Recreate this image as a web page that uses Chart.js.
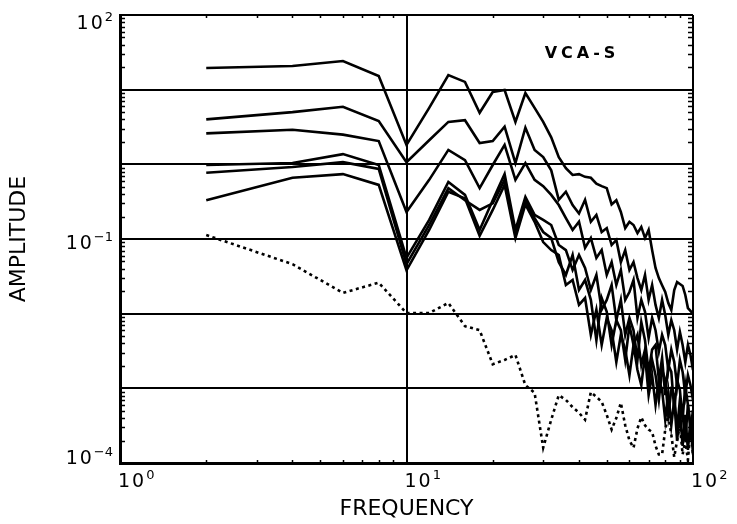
<!DOCTYPE html>
<html>
<head>
<meta charset="utf-8">
<script src="https://cdn.jsdelivr.net/npm/chart.js@4.4.0/dist/chart.umd.min.js"></script>
<style>
  body { margin: 0; background: #fff; }
  canvas { display: block; }
</style>
</head>
<body>
<canvas id="chart" width="737" height="524"></canvas>
<script>
// frequency samples (Hz)
const freq = [2, 4, 6, 8, 10, 12, 14, 16, 18, 20, 22, 24, 26, 28, 30, 32, 34, 36, 38, 40,
  42, 44, 46, 48, 50, 52, 54, 56, 58, 60, 62, 64, 66, 68, 70, 72, 74, 76, 78, 80,
  82, 84, 86, 88, 90, 92, 94, 96, 98, 100];

// spectra, top to bottom
const ampA = [19.5, 20.7, 24.2, 15.2, 1.82, 5.7, 15.7, 12.7, 4.9, 9.3,
  9.9, 3.7, 9.0, 5.7, 3.7, 2.3, 1.25, 0.89, 0.72, 0.74,
  0.68, 0.66, 0.55, 0.51, 0.48, 0.29, 0.33, 0.23, 0.14, 0.17,
  0.154, 0.12, 0.145, 0.103, 0.132, 0.071, 0.041, 0.030, 0.024, 0.0195,
  0.0139, 0.0112, 0.0207, 0.0265, 0.025, 0.0235, 0.0178, 0.0119, 0.0109, 0.0099];
const ampB = [4.0, 5.0, 5.9, 3.8, 1.07, 2.1, 3.7, 3.9, 1.93, 2.05,
  3.2, 1.04, 3.1, 1.56, 1.25, 0.83, 0.335, 0.43, 0.285, 0.22,
  0.335, 0.17, 0.21, 0.124, 0.14, 0.083, 0.097, 0.049, 0.071, 0.0385,
  0.049, 0.030, 0.0208, 0.033, 0.0153, 0.0242, 0.0131, 0.00875, 0.0153, 0.0096,
  0.0052, 0.0082, 0.006, 0.0033, 0.0057, 0.0038, 0.00225, 0.0038, 0.0028, 0.00176];
const ampC = [2.6, 2.9, 2.5, 2.05, 0.23, 0.62, 1.56, 1.14, 0.48, 0.98,
  1.82, 0.62, 1.04, 0.62, 0.51, 0.39, 0.285, 0.19, 0.132, 0.17,
  0.076, 0.103, 0.0557, 0.071, 0.033, 0.049, 0.0242, 0.0385, 0.0153, 0.0195,
  0.0282, 0.00875, 0.0153, 0.0106, 0.0047, 0.00875, 0.006, 0.0031, 0.0052, 0.0038,
  0.00176, 0.0033, 0.00225, 0.0011, 0.0024, 0.00166, 0.00081, 0.0015, 0.0011, 0.0007];
const ampD = [0.98, 1.04, 1.37, 0.98, 0.056, 0.18, 0.58, 0.39, 0.132, 0.33,
  0.74, 0.132, 0.365, 0.21, 0.18, 0.154, 0.083, 0.071, 0.0385, 0.061,
  0.041, 0.0208, 0.033, 0.0113, 0.0153, 0.0242, 0.0082, 0.0153, 0.0052, 0.00875,
  0.006, 0.0024, 0.0077, 0.0044, 0.00166, 0.0033, 0.0038, 0.0013, 0.00255, 0.00081,
  0.00205, 0.00166, 0.00051, 0.0013, 0.00095, 0.00038, 0.0011, 0.0006, 0.00028, 0.00051];
const ampE = [0.77, 0.92, 1.07, 0.87, 0.046, 0.154, 0.48, 0.33, 0.245, 0.30,
  0.62, 0.12, 0.33, 0.19, 0.124, 0.103, 0.049, 0.033, 0.061, 0.0208,
  0.0282, 0.0153, 0.0044, 0.0162, 0.0106, 0.0038, 0.0082, 0.006, 0.0024, 0.007,
  0.0038, 0.0052, 0.00205, 0.0033, 0.0011, 0.0024, 0.0015, 0.0007, 0.00176, 0.0013,
  0.00044, 0.00095, 0.00081, 0.00028, 0.0007, 0.00044, 0.0002, 0.0006, 0.00032, 0.00017];
const ampF = [0.33, 0.66, 0.74, 0.53, 0.038, 0.132, 0.43, 0.35, 0.11, 0.245,
  0.53, 0.103, 0.29, 0.17, 0.091, 0.071, 0.061, 0.0242, 0.0282, 0.0131,
  0.0162, 0.0052, 0.0113, 0.0038, 0.00875, 0.006, 0.00225, 0.0052, 0.0033, 0.0015,
  0.0038, 0.00176, 0.0011, 0.0028, 0.00081, 0.0015, 0.0006, 0.0013, 0.00095, 0.00038,
  0.00089, 0.00032, 0.0007, 0.0002, 0.00051, 0.00017, 0.00044, 0.00015, 0.00038, 0.00013];
// noise floor (dotted)
const ampNoise = [0.113, 0.046, 0.019, 0.026, 0.0102, 0.0102, 0.0139, 0.0068, 0.006, 0.0021,
  0.0024, 0.0028, 0.0011, 0.00087, 0.00016, 0.00038, 0.00081, 0.0007, 0.00056, 0.00047,
  0.00038, 0.00089, 0.00077, 0.00066, 0.00044, 0.00028, 0.0004, 0.00064, 0.00032, 0.0002,
  0.00016, 0.00029, 0.00041, 0.00032, 0.00028, 0.00026, 0.00017, 0.00013, 0.00013, 0.00028,
  0.00044, 0.00024, 0.00012, 0.0002, 0.00032, 0.00013, 0.0002, 0.00011, 0.00028, 0.00013];

// decade ticks; labels are [base, exponent], null where the decade is unlabelled
const xTickValues = [1, 10, 100];
const xTickLabels = [['10', '0'], ['10', '1'], ['10', '2']];
const yTickValues = [1e-4, 1e-3, 1e-2, 1e-1, 1, 10, 100];
const yTickLabels = [['10', '−4'], null, null, ['10', '−1'], null, null, ['10', '2']];

const FONT = '"DejaVu Sans", sans-serif';

const toPoints = arr => arr.map((v, i) => ({ x: freq[i], y: v }));

const solid = arr => ({
  data: toPoints(arr),
  borderColor: '#000',
  borderWidth: 2.6,
  pointRadius: 0,
  tension: 0,
  fill: false
});

// "10" with a raised exponent, anchored at (x, yMid)
function drawPower(ctx, lab, x, yMid, align) {
  ctx.letterSpacing = '2px';
  ctx.font = '19px ' + FONT;
  const wb = ctx.measureText(lab[0]).width;
  ctx.letterSpacing = '0px';
  ctx.font = '13px ' + FONT;
  const we = ctx.measureText(lab[1]).width;
  const left = align === 'right' ? x - wb - we : x;
  ctx.textAlign = 'left';
  ctx.textBaseline = 'alphabetic';
  ctx.letterSpacing = '2px';
  ctx.font = '19px ' + FONT;
  ctx.fillText(lab[0], left, yMid + 7);
  ctx.letterSpacing = '0px';
  ctx.font = '13px ' + FONT;
  ctx.fillText(lab[1], left + wb, yMid - 1);
}

// inward minor ticks on all four sides, decade labels and the panel tag
const frameDecor = {
  id: 'frameDecor',
  afterDraw(chart) {
    const { ctx, chartArea: a, scales: { x, y } } = chart;
    ctx.save();
    ctx.strokeStyle = '#000';
    ctx.lineWidth = 1.5;
    ctx.beginPath();
    for (let e = -4; e < 2; e++) {
      for (let m = 2; m < 10; m++) {
        const py = Math.round(y.getPixelForValue(m * Math.pow(10, e))) + 0.5;
        ctx.moveTo(a.left, py); ctx.lineTo(a.left + 5, py);
        ctx.moveTo(a.right, py); ctx.lineTo(a.right - 5, py);
      }
    }
    for (let e = 0; e < 2; e++) {
      for (let m = 2; m < 10; m++) {
        const px = Math.round(x.getPixelForValue(m * Math.pow(10, e))) + 0.5;
        ctx.moveTo(px, a.bottom); ctx.lineTo(px, a.bottom - 3);
        ctx.moveTo(px, a.top); ctx.lineTo(px, a.top + 3);
      }
    }
    ctx.stroke();

    ctx.fillStyle = '#000';
    yTickValues.forEach((v, i) => {
      if (!yTickLabels[i]) return;
      const py = Math.min(Math.max(y.getPixelForValue(v) + 3, a.top + 7), a.bottom - 6);
      drawPower(ctx, yTickLabels[i], a.left - 7, py, 'right');
    });
    xTickValues.forEach((v, i) => {
      drawPower(ctx, xTickLabels[i], x.getPixelForValue(v) - 2, a.bottom + 17, 'left');
    });

    ctx.font = 'bold 16px ' + FONT;
    ctx.letterSpacing = '4px';
    ctx.textAlign = 'center';
    ctx.textBaseline = 'middle';
    ctx.fillText('VCA-S', a.right - 111, a.top + 39);
    ctx.restore();
  }
};

Chart.defaults.font.family = FONT;
Chart.defaults.color = '#000';

const axisTitle = text => ({
  display: true,
  text,
  font: { size: 22 },
  color: '#000'
});

new Chart(document.getElementById('chart'), {
  type: 'line',
  data: {
    datasets: [
      solid(ampA), solid(ampB), solid(ampC), solid(ampD), solid(ampE), solid(ampF),
      Object.assign(solid(ampNoise), { borderDash: [3, 3.5] })
    ]
  },
  options: {
    responsive: false,
    animation: false,
    devicePixelRatio: 1,
    layout: { padding: { top: 15, right: 44, left: 0, bottom: 0 } },
    plugins: { legend: { display: false }, tooltip: { enabled: false } },
    scales: {
      x: {
        type: 'logarithmic',
        min: 1, max: 100,
        afterBuildTicks: s => { s.ticks = xTickValues.map(v => ({ value: v })); },
        afterFit: s => { s.height = 61; },
        ticks: { display: false },
        grid: { color: '#000', lineWidth: 2, drawTicks: false },
        border: { color: '#000', width: 3 },
        title: Object.assign(axisTitle('FREQUENCY'), { padding: { top: 0, bottom: 2 } })
      },
      y: {
        type: 'logarithmic',
        min: 1e-4, max: 100,
        afterBuildTicks: s => { s.ticks = yTickValues.map(v => ({ value: v })); },
        afterFit: s => { s.width = 120; },
        ticks: { display: false },
        grid: { color: '#000', lineWidth: 2, drawTicks: false },
        border: { color: '#000', width: 3 },
        title: Object.assign(axisTitle('AMPLITUDE'), { padding: { top: 6, bottom: 0 } })
      }
    }
  },
  plugins: [frameDecor]
});
</script>
</body>
</html>
